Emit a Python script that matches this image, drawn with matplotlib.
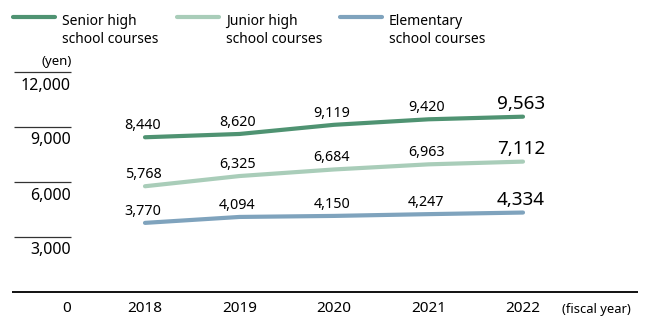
import matplotlib
matplotlib.use("Agg")
import matplotlib.pyplot as plt

plt.rcParams['font.family'] = ['Noto Sans', 'DejaVu Sans']

years = [2018, 2019, 2020, 2021, 2022]
senior = [8440, 8620, 9119, 9420, 9563]
junior = [5768, 6325, 6684, 6963, 7112]
elementary = [3770, 4094, 4150, 4247, 4334]
series_names = [("Senior high", "school courses"),
                ("Junior high", "school courses"),
                ("Elementary", "school courses")]
colors = ["#4f9372", "#a9cdb9", "#7fa3bd"]
yticks = [3000, 6000, 9000, 12000]

W, H = 648, 320
# pixel layout of the chart
X0, DX = 145, 94.5          # px of 2018, px per year
Y0, DY = 292, 55 / 3000     # px of zero line, px per yen


def px2x(px):
    return years[0] + (px - X0) / DX


def px2y(py):
    return (Y0 - py) / DY


fig = plt.figure(figsize=(W / 100, H / 100), dpi=100)
ax = fig.add_axes([0, 0, 1, 1])
ax.set_xlim(px2x(0), px2x(W))
ax.set_ylim(px2y(H), px2y(0))
ax.axis("off")

# grid stubs on the left + baseline
ax.hlines(yticks, px2x(14), px2x(71), color="#333333", lw=0.9)
ax.hlines(0, px2x(12), px2x(638), color="#111111", lw=1.4)
for t in yticks:
    ax.text(px2x(71), t - 13.5 / DY, f"{t:,}", ha="right", va="center", fontsize=11.5)
ax.text(px2x(72), px2y(62), "(yen)", ha="right", va="center", fontsize=9.5)
ax.text(px2x(67), px2y(309), "0", ha="center", va="center", fontsize=11)
for yr in years:
    ax.text(yr, px2y(309), str(yr), ha="center", va="center", fontsize=11)
ax.text(px2x(562), px2y(309), "(fiscal year)", ha="left", va="center", fontsize=9.3)

# lines + value labels
for vals, col in zip([senior, junior, elementary], colors):
    ax.plot(years, vals, color=col, lw=3, solid_capstyle="round")
    for i, (yr, v) in enumerate(zip(years, vals)):
        big = i == len(years) - 1
        ax.annotate(f"{v:,}", (yr, v), xytext=(-2, 8), textcoords="offset pixels",
                    ha="center", va="baseline", fontsize=13.6 if big else 10.3)

# legend
leg_x = [13, 177, 340]
for lx, (l1, l2), col in zip(leg_x, series_names, colors):
    ax.plot([px2x(lx), px2x(lx + 42)], [px2y(17), px2y(17)], color=col, lw=3,
            solid_capstyle="round")
    ax.text(px2x(lx + 49), px2y(25), l1, ha="left", va="baseline", fontsize=10)
    ax.text(px2x(lx + 49), px2y(43), l2, ha="left", va="baseline", fontsize=10)

fig.savefig("out.png", dpi=100)
